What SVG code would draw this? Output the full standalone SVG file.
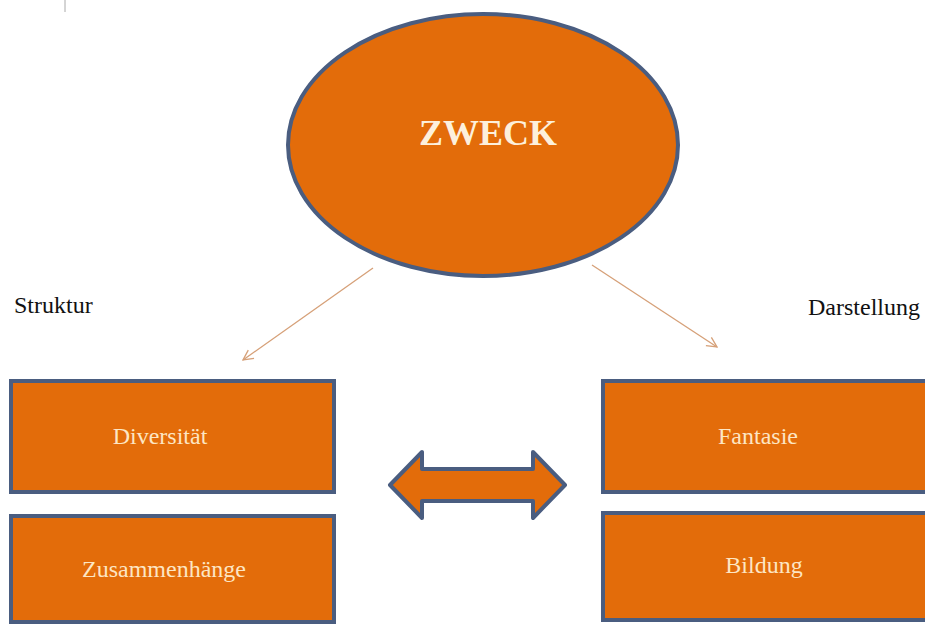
<svg xmlns="http://www.w3.org/2000/svg" width="925" height="624" viewBox="0 0 925 624">
<defs>
<style>
.node{fill:#e36c0a;stroke:#4a5d80;stroke-width:4}
.conn{stroke:#d6a078;stroke-width:1.3;fill:none}
</style>
<marker id="vh" viewBox="0 0 12 12" refX="11" refY="6" markerWidth="12" markerHeight="12" markerUnits="userSpaceOnUse" orient="auto">
<path d="M1,1 L11,6 L1,11" fill="none" stroke="#d6a078" stroke-width="1.3"/>
</marker>
</defs>
<rect width="925" height="624" fill="#ffffff"/>
<line x1="65" y1="0" x2="65" y2="12" stroke="#aaaaaa" stroke-width="1"/>
<g id="zweck">
<ellipse class="node" cx="483" cy="145" rx="195" ry="131"/>
<text x="488" y="145" font-family="Liberation Serif" font-size="36" font-weight="bold" fill="#fdf0dc" text-anchor="middle">ZWECK</text>
</g>
<g id="struktur"><text x="14" y="313" font-family="Liberation Serif" font-size="24" fill="#111">Struktur</text></g>
<g id="darstellung"><text x="808" y="315" font-family="Liberation Serif" font-size="24" fill="#111">Darstellung</text></g>
<g id="diversitaet">
<rect class="node" x="11" y="381" width="323" height="111"/>
<text x="160" y="444" font-family="Liberation Serif" font-size="24" fill="#fde6c4" text-anchor="middle">Diversität</text>
</g>
<g id="zusammenhaenge">
<rect class="node" x="11" y="516" width="323" height="106"/>
<text x="164" y="577" font-family="Liberation Serif" font-size="24" fill="#fde6c4" text-anchor="middle">Zusammenhänge</text>
</g>
<g id="fantasie">
<rect class="node" x="603" y="381" width="330" height="111"/>
<text x="758" y="444" font-family="Liberation Serif" font-size="24" fill="#fde6c4" text-anchor="middle">Fantasie</text>
</g>
<g id="bildung">
<rect class="node" x="603" y="513" width="330" height="107"/>
<text x="764" y="573" font-family="Liberation Serif" font-size="24" fill="#fde6c4" text-anchor="middle">Bildung</text>
</g>
<g id="doppelpfeil">
<path class="node" stroke-width="3.5" stroke-linejoin="round" d="M390,485 L422,452 L422,469 L533,469 L533,452 L565,485 L533,518 L533,501 L422,501 L422,518 Z"/>
</g>
<g id="connectors">
<line class="conn" x1="373" y1="268" x2="243" y2="360" marker-end="url(#vh)"/>
<line class="conn" x1="592" y1="265" x2="717" y2="347" marker-end="url(#vh)"/>
</g>
</svg>
